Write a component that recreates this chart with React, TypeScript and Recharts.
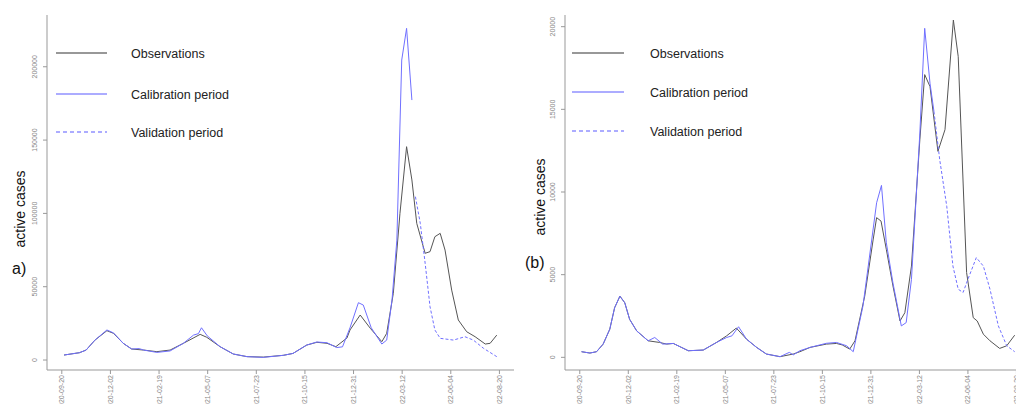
import { LineChart, Line, XAxis, YAxis } from 'recharts'

// x position is the sample index; tick labels every 11 samples
const tickIdx = [0, 11, 22, 33, 44, 55, 66, 77, 88, 99]
const tickDates = [
  '2020-09-20', '2020-12-02', '2021-02-19', '2021-05-07', '2021-07-23',
  '2021-10-15', '2021-12-31', '2022-03-12', '2022-06-04', '2022-08-20',
]

// panel a)
const obsA_t = [0.5, 4, 5.5, 7.5, 10.2, 11.7, 13.9, 15.8, 18.5, 21.5, 24.5, 27.5, 31.3, 32.8, 35.8, 38.8, 41.9, 45.6, 50.1, 52.3, 55.4, 57.7, 60, 62, 64.5, 65.2, 67.5, 69.8, 72.4, 73.5, 75, 76.5, 78, 79.2, 80.3, 82.2, 83.3, 84.4, 85.6, 86.7, 88.2, 89.7, 91.6, 93.5, 95.8, 96.9, 98.4]
const obsA_v = [3400, 5000, 6800, 13600, 20000, 18200, 11400, 7500, 6800, 5700, 6800, 11400, 17500, 15500, 9100, 4100, 2300, 2000, 3200, 4500, 10200, 12100, 11400, 9100, 15000, 20500, 30700, 21600, 12500, 18200, 45500, 100000, 145500, 122800, 93200, 72800, 73900, 84100, 86400, 75000, 47700, 27300, 19300, 15900, 10900, 11400, 17000]

const calA_t = [0.5, 4, 5.5, 7.5, 10.2, 11.7, 13.9, 15.8, 17.5, 18.5, 21.5, 24.5, 27.5, 29.8, 30.9, 31.6, 32.9, 35.8, 38.8, 41.9, 45.6, 50.1, 52.3, 55.4, 57.7, 60, 62.2, 63.5, 65.2, 67.1, 68.2, 70, 72.4, 73.5, 74.7, 75.8, 76.9, 78, 79.2]
const calA_v = [3400, 5000, 6800, 13600, 20500, 18500, 11400, 7500, 7800, 6800, 5200, 6200, 11400, 17000, 18000, 22000, 16500, 9100, 4100, 2300, 1800, 3200, 4500, 10200, 12300, 11800, 8500, 9000, 22000, 39100, 37500, 22000, 10900, 13600, 40900, 81800, 204600, 226200, 177300]

const valA_t = [80, 81.1, 82.2, 83.3, 84.4, 85.6, 88.6, 91.2, 93.1, 95.4, 98.4]
const valA_v = [111400, 93200, 66000, 36400, 20500, 14800, 13600, 15900, 13600, 8000, 2300]

// panel (b)
const obsB_t = [0.4, 2.3, 3.8, 5.3, 6.8, 7.9, 9.1, 10.2, 11.3, 12.9, 15.5, 18.1, 19.7, 21.2, 24.6, 28, 31, 33.3, 35.5, 37.8, 40.1, 42.3, 45.4, 48.4, 49.9, 52.2, 55.9, 58.2, 59.5, 61.2, 62.4, 64.6, 66.5, 67.3, 68.3, 69.5, 71, 72.6, 73.7, 75.2, 77.1, 78.2, 79.4, 81.2, 82.8, 84.7, 85.8, 87.7, 89.2, 90.1, 91.5, 93, 95.2, 96.8, 98.6]
const obsB_v = [340, 260, 340, 800, 1700, 3000, 3700, 3300, 2300, 1600, 1000, 900, 800, 840, 400, 440, 900, 1300, 1770, 1100, 600, 200, 40, 200, 340, 600, 800, 840, 750, 500, 1000, 3700, 7100, 8450, 8240, 6530, 4320, 2200, 2700, 5520, 13160, 17100, 16380, 12460, 13770, 20400, 18190, 5130, 2400, 2200, 1400, 1000, 540, 700, 1340]

const calB_t = [0.4, 2.3, 3.8, 5.3, 6.8, 7.9, 9.1, 10.2, 11.3, 12.9, 15.5, 17, 18.8, 21.2, 24.6, 28, 31, 33.3, 34.5, 36, 37.8, 40.1, 42.3, 45.4, 47.5, 48.4, 49.9, 52.2, 55.9, 58.2, 60.5, 62, 64.2, 67.3, 68.4, 69.5, 71, 72.9, 74, 75.2, 77.1, 78.2, 79.4, 80.3]
const calB_v = [340, 260, 340, 800, 1700, 3000, 3700, 3300, 2300, 1600, 1000, 1200, 800, 840, 400, 440, 900, 1200, 1300, 1850, 1100, 600, 200, 40, 300, 150, 400, 600, 850, 900, 700, 340, 3100, 9350, 10400, 6930, 4500, 1900, 2100, 4720, 13570, 19900, 16580, 14870]

const valB_t = [80.3, 81.6, 83.2, 84.6, 85.8, 86.9, 88, 89.9, 91.5, 93, 94.9, 96.8, 98.6]
const valB_v = [14870, 11960, 9140, 5520, 4120, 3920, 4720, 6030, 5520, 4120, 1900, 700, 340]

const yTicksA = [0, 50000, 100000, 150000, 200000]
const yTicksB = [0, 5000, 10000, 15000, 20000]

const OBS = '#555'
const BLUE = '#7070ff'
const FRAME = '#999'
const FONT = '"Liberation Sans", Arial, sans-serif'

const pts = (t: number[], v: number[]) => t.map((x, i) => ({ t: x, v: v[i] }))

function YTick({ x, y, payload }: any) {
  return (
    <text x={x} y={y} transform={`rotate(-90 ${x} ${y})`} textAnchor="middle" fontSize={7} fill="#888" fontFamily={FONT}>
      {payload.value}
    </text>
  )
}

function XTick({ x, y, payload }: any) {
  const i = tickIdx.indexOf(payload.value)
  return (
    <text x={x} y={y} dy={2.5} transform={`rotate(-90 ${x} ${y})`} textAnchor="end" fontSize={7} fill="#888" fontFamily={FONT}>
      {tickDates[i]}
    </text>
  )
}

interface PanelProps {
  obs: { t: number; v: number }[]
  cal: { t: number; v: number }[]
  val: { t: number; v: number }[]
  yDomain: [number, number]
  yTicks: number[]
  width: number
  yAxisWidth: number
}

function Panel({ obs, cal, val, yDomain, yTicks, width, yAxisWidth }: PanelProps) {
  return (
    <LineChart width={width} height={412} margin={{ top: 15, right: 6, bottom: 0, left: 0 }}>
      <XAxis
        dataKey="t"
        type="number"
        domain={[-3.35, 102.3]}
        ticks={tickIdx}
        interval={0}
        height={42}
        tickSize={4}
        tickMargin={1}
        stroke={FRAME}
        tick={<XTick />}
        allowDataOverflow
      />
      <XAxis xAxisId="top" orientation="top" type="number" domain={[-3.35, 102.3]} height={0} tick={false} tickLine={false} stroke={FRAME} />
      <YAxis
        type="number"
        domain={yDomain}
        ticks={yTicks}
        interval={0}
        width={yAxisWidth}
        tickSize={4}
        tickMargin={6}
        stroke={FRAME}
        tick={<YTick />}
        allowDataOverflow
      />
      <YAxis yAxisId="right" orientation="right" width={0} tick={false} tickLine={false} stroke={FRAME} />
      <Line data={obs} dataKey="v" type="linear" stroke={OBS} strokeWidth={1} dot={false} isAnimationActive={false} />
      <Line data={cal} dataKey="v" type="linear" stroke={BLUE} strokeWidth={1} dot={false} isAnimationActive={false} />
      <Line data={val} dataKey="v" type="linear" stroke={BLUE} strokeWidth={1} strokeDasharray="3 2" dot={false} isAnimationActive={false} />
    </LineChart>
  )
}

const legendLabels = ['Observations', 'Calibration period', 'Validation period']
const legendColors = ['#333333', '#5a5aff', '#5a5aff']
const legendDash = ['none', 'none', '4 3']

function Overlay({ lineX, textX, rows, ylabX, ylabY, tag, tagX, tagY }: any) {
  return (
    <svg width={520} height={412} style={{ position: 'absolute', left: 0, top: 0, pointerEvents: 'none' }}>
      {legendLabels.map((label, i) => (
        <g key={label}>
          <line x1={lineX[0]} x2={lineX[1]} y1={rows[i]} y2={rows[i]} stroke={legendColors[i]} strokeWidth={1.2} strokeDasharray={legendDash[i]} />
          <text x={textX} y={rows[i] + 4.5} fontSize={12.5} fill="#222" fontFamily={FONT}>{label}</text>
        </g>
      ))}
      <text x={ylabX} y={ylabY} transform={`rotate(-90 ${ylabX} ${ylabY})`} textAnchor="middle" fontSize={14} fill="#111" fontFamily={FONT}>
        active cases
      </text>
      <text x={tagX} y={tagY} fontSize={16} fill="#111" fontFamily={FONT}>{tag}</text>
    </svg>
  )
}

export default function App() {
  return (
    <div style={{ position: 'relative', width: 1024, height: 412, margin: -8, overflow: 'hidden', background: '#fff' }}>
      <div style={{ position: 'absolute', left: 0, top: 0, width: 520, height: 412 }}>
        <Panel obs={pts(obsA_t, obsA_v)} cal={pts(calA_t, calA_v)} val={pts(valA_t, valA_v)} yDomain={[-6800, 235300]} yTicks={yTicksA} width={520} yAxisWidth={47} />
        <Overlay lineX={[56, 107]} textX={131} rows={[53, 94, 132]} ylabX={25} ylabY={209} tag="a)" tagX={12} tagY={274} />
      </div>
      <div style={{ position: 'absolute', left: 520, top: 0, width: 504, height: 412, overflow: 'hidden' }}>
        <Panel obs={pts(obsB_t, obsB_v)} cal={pts(calB_t, calB_v)} val={pts(valB_t, valB_v)} yDomain={[-766, 20706]} yTicks={yTicksB} width={517} yAxisWidth={45} />
        <Overlay lineX={[52, 104]} textX={130} rows={[53, 92, 131]} ylabX={25} ylabY={197} tag="(b)" tagX={5} tagY={268} />
      </div>
    </div>
  )
}
